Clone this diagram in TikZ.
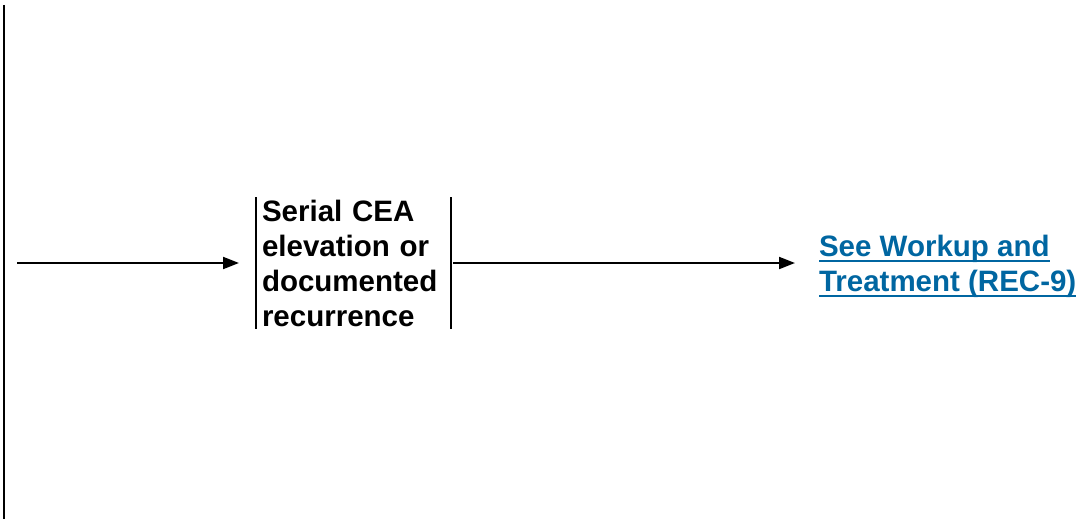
\documentclass[tikz,border=0pt]{standalone}
\usepackage{fontspec}
\setmainfont{Liberation Sans}
\usetikzlibrary{arrows.meta,positioning}
\definecolor{linkblue}{RGB}{0,102,161}
% link text with a heavy underline
\newcommand{\ulink}[1]{\setbox0\hbox{#1}\rlap{\rule[-6pt]{\wd0}{2pt}}\box0}

\begin{document}
\begin{tikzpicture}[x=1pt, y=-1pt, line width=2pt,
    font=\bfseries\fontsize{29.5}{35}\selectfont,
    >={Triangle[length=16pt,width=12pt]},
    block/.style={rectangle, text width=183pt, align=left, inner xsep=5pt, inner ysep=0pt, minimum height=130pt},
    linknode/.style={inner sep=0pt, align=left, text=linkblue}]

    \useasboundingbox (0,0) rectangle (1092,519);

    % left rule
    \draw (3.5,5) -- (3.5,519);

    \node[coordinate] (input) at (17,263) {};
    \node[block] (cea) at (353.5,263) {Serial CEA\\elevation or\\documented\\recurrence};
    \node[linknode, anchor=west] (rec) at (818,266) {\ulink{See Workup and}\\\ulink{Treatment (REC-9)}};

    \draw (cea.north west) -- (cea.south west);
    \draw (cea.north east) -- (cea.south east);

    \draw[->, shorten >=17pt] (input) -- (cea.west);
    \draw[->, shorten <=2pt, shorten >=23pt] (cea.east) -- (cea.east -| rec.west);

\end{tikzpicture}
\end{document}
